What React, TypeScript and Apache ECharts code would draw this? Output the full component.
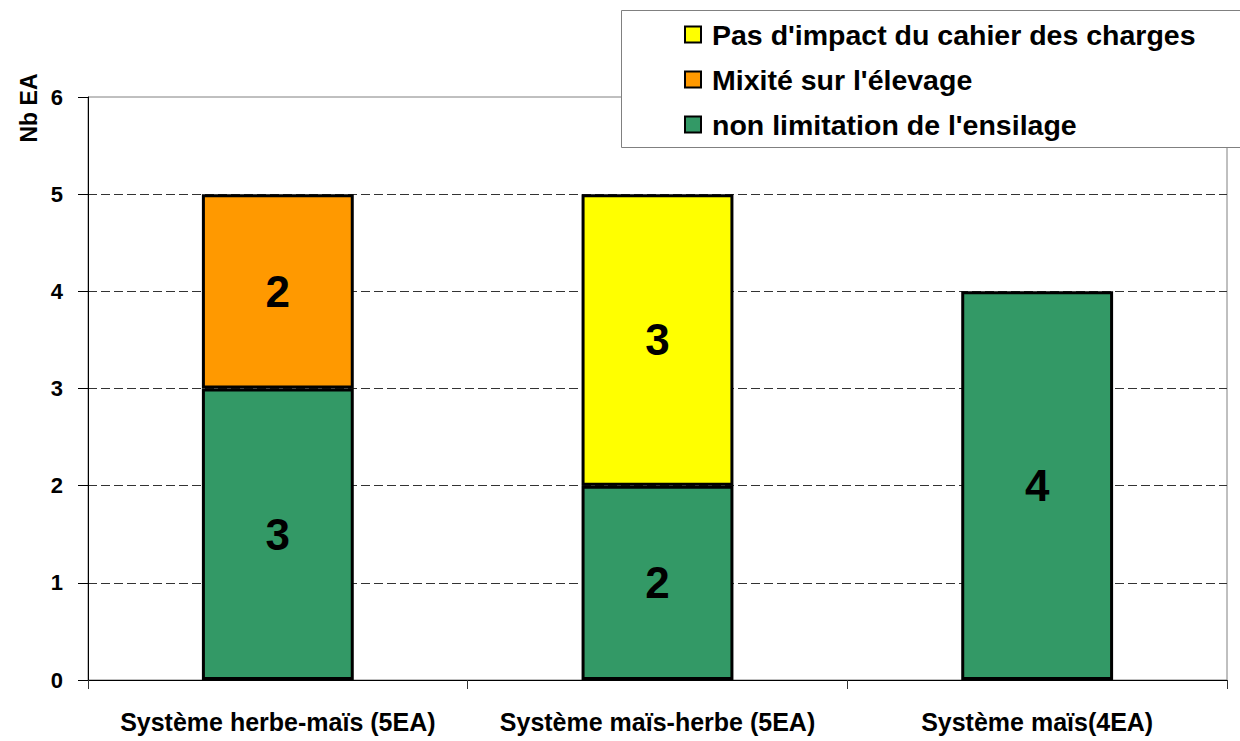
import React, { useEffect, useRef } from "react";
import * as echarts from "echarts";

const categories = ["Système herbe-maïs (5EA)", "Système maïs-herbe (5EA)", "Système maïs(4EA)"];
const nonLimitation = [3, 2, 4];
const mixite = [2, null, null];
const pasImpact = [null, 3, null];
const yTicks = [0, 1, 2, 3, 4, 5, 6];
const seriesNames = ["Pas d'impact du cahier des charges", "Mixité sur l'élevage", "non limitation de l'ensilage"];
const yAxisTitle = "Nb EA";

const FONT = "'Liberation Sans', Arial, sans-serif";

export default function App() {
  const ref = useRef<HTMLDivElement>(null);
  useEffect(() => {
    if (!ref.current) return;
    const chart = echarts.init(ref.current, null, { renderer: "svg" });
    const label = {
      show: true,
      position: "inside",
      color: "#000",
      fontSize: 44,
      fontWeight: "bold",
      fontFamily: FONT,
    };
    const itemStyle = (c: string) => ({ color: c, borderColor: "#000", borderWidth: 3 });
    chart.setOption({
      animation: false,
      backgroundColor: "#fff",
      grid: {
        left: 88,
        right: 13,
        top: 97,
        bottom: 61,
        show: true,
        borderColor: "#808080",
        borderWidth: 1,
        backgroundColor: "transparent",
      },
      xAxis: {
        type: "category",
        data: categories,
        axisLine: { show: true, lineStyle: { color: "#000", width: 1 } },
        axisTick: { show: true, length: 9, lineStyle: { color: "#333" } },
        axisLabel: {
          color: "#000",
          fontSize: 25,
          fontWeight: "bold",
          fontFamily: FONT,
          margin: 29,
          interval: 0,
        },
      },
      yAxis: {
        type: "value",
        min: yTicks[0],
        max: yTicks[yTicks.length - 1],
        interval: 1,
        axisLine: { show: true, lineStyle: { color: "#000", width: 1 } },
        axisTick: { show: true, length: 10, lineStyle: { color: "#000" } },
        axisLabel: {
          color: "#000",
          fontSize: 22,
          fontWeight: "bold",
          fontFamily: FONT,
          margin: 25,
        },
        splitLine: {
          show: true,
          lineStyle: {
            color: ["transparent", "#333", "#333", "#333", "#333", "#333", "transparent"],
            type: [9, 4],
            width: 1,
          },
        },
      },
      legend: {
        data: seriesNames,
        orient: "vertical",
        left: 684,
        top: 20,
        padding: 0,
        itemWidth: 16,
        itemHeight: 16,
        itemGap: 16,
        icon: "rect",
        itemStyle: { borderColor: "#000", borderWidth: 2 },
        textStyle: {
          color: "#000",
          fontSize: 28.5,
          fontWeight: "bold",
          fontFamily: FONT,
          lineHeight: 27,
          padding: [0, 0, 0, 6],
        },
        z: 10,
      },
      graphic: [
        {
          type: "rect",
          z: 8,
          shape: { x: 621.5, y: 10.5, width: 700, height: 137 },
          style: { fill: "#fff", stroke: "#808080", lineWidth: 1 },
        },
        {
          type: "text",
          x: 29,
          y: 108,
          rotation: Math.PI / 2,
          style: {
            text: yAxisTitle,
            fill: "#000",
            fontSize: 23,
            fontWeight: "bold",
            fontFamily: FONT,
            align: "center",
            verticalAlign: "middle",
          },
        },
      ],
      series: [
        {
          name: seriesNames[2],
          type: "bar",
          stack: "total",
          barWidth: "40%",
          data: nonLimitation,
          itemStyle: itemStyle("#339966"),
          label,
        },
        {
          name: seriesNames[1],
          type: "bar",
          stack: "total",
          data: mixite,
          itemStyle: itemStyle("#FF9900"),
          label,
        },
        {
          name: seriesNames[0],
          type: "bar",
          stack: "total",
          data: pasImpact,
          itemStyle: itemStyle("#FFFF00"),
          label,
        },
      ],
    });
    return () => chart.dispose();
  }, []);
  return (
    <div
      ref={ref}
      style={{ position: "fixed", left: 0, top: 0, width: 1240, height: 741 }}
    />
  );
}
